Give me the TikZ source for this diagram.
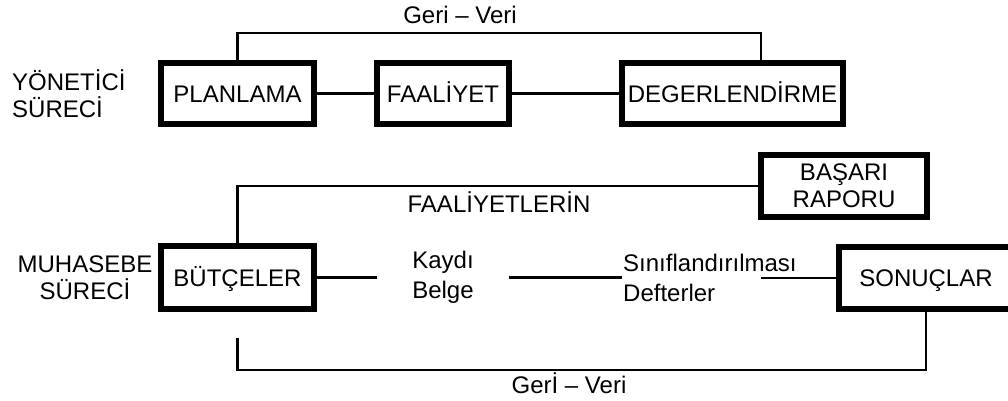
\documentclass[tikz,border=0pt]{standalone}
\usepackage{fontspec}
\setmainfont{Liberation Sans}
\usepackage{tikz}
\tikzset{
	kutu/.style 2 args={draw,line width=6pt,inner sep=2pt,minimum width=#1,minimum height=#2,align=center},
	tek/.style={text height=19pt,text depth=1.8pt},
	hat/.style={line width=2.5pt},
	yazi/.style={inner sep=0pt}
}

\begin{document}
\begin{tikzpicture}[x=1pt,y=-1pt,font=\fontsize{24}{27}\selectfont]
	\useasboundingbox (0,0) rectangle (1008,400);
	
	\node [yazi,anchor=west,align=left] (yonetici) at (12,93.5) {YÖNETİCİ\\SÜRECİ};
	\node [kutu={153pt}{61pt},tek] (planlama) at (237.5,93.5) {PLANLAMA};
	\node [kutu={132pt}{61pt},tek] (faaliyet) at (443,93.5) {FAALİYET};
	\node [kutu={221pt}{61pt},tek] (degerlendirme) at (732.5,93.5) {DEGERLENDİRME};
	
	\draw [hat] (planlama) -- (faaliyet);
	\draw [hat] (faaliyet) -- (degerlendirme);
	
	\coordinate (gv) at (761,33);
	\draw [hat] (planlama.north) |- (gv) -- (gv |- degerlendirme.north);
	\node [yazi] (geriveri1) at (460,15) {Geri -- Veri};
	
	\node [kutu={166pt}{62pt}] (basari) at (844,186) {BAŞARI\\RAPORU};
	\node [yazi] (faaliyetlerin) at (499,202) {FAALİYETLERİN};
	
	\node [yazi,align=center] (muhasebe) at (85,278) {MUHASEBE\\SÜRECİ};
	\node [kutu={153pt}{63pt},tek] (butce) at (237.5,277.5) {BÜTÇELER};
	\node [kutu={174pt}{62pt},tek] (sonuc) at (926,278) {SONUÇLAR};
	\node [align=center,inner xsep=35pt,inner ysep=0pt] (kaydi) at (443,277.5) {Kaydı\\[3pt]Belge};
	\node [align=left,anchor=west,inner xsep=1pt,inner ysep=0pt] (sinif) at (622,277.5) {Sınıflandırılması\\[3pt]Defterler};
	
	\draw [hat] (basari.west) -| (butce.north);
	\draw [hat] (butce) -- (kaydi);
	\draw [hat] (kaydi) -- (sinif.west);
	\coordinate (sk) at (761,278);
	\draw [hat] (sk) -- (sonuc.west);
	
	\coordinate (gb) at (237.5,370);
	\coordinate (gbUc) at (237.5,338);
	\draw [hat] (sonuc.south) |- (gb) -- (gbUc);
	\node [yazi] (geriveri2) at (569,383) {Gerİ -- Veri};
\end{tikzpicture}
\end{document}
